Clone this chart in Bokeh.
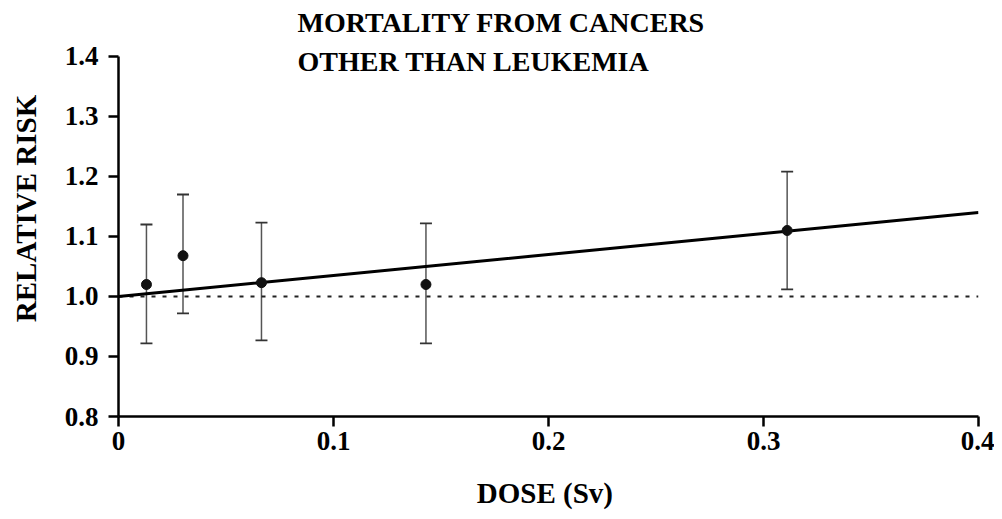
from bokeh.plotting import figure
from bokeh.models import ColumnDataSource, Whisker, TeeHead, Label, FixedTicker, Range1d
from bokeh.embed import file_html
from bokeh.resources import INLINE

# data
dose = [0.013, 0.030, 0.0665, 0.143, 0.311]
rr = [1.020, 1.068, 1.023, 1.020, 1.110]
rr_low = [0.922, 0.972, 0.927, 0.922, 1.012]
rr_high = [1.120, 1.170, 1.123, 1.122, 1.208]

fit_dose = [0.0, 0.1, 0.2, 0.3, 0.4]
fit_rr = [1.0, 1.035, 1.07, 1.105, 1.14]

ref_dose = [0.0, 0.4]
ref_rr = [1.0, 1.0]

x_ticks = [0, 0.1, 0.2, 0.3, 0.4]
x_tick_labels = {0: "0", 0.1: "0.1", 0.2: "0.2", 0.3: "0.3", 0.4: "0.4"}
y_ticks = [0.8, 0.9, 1.0, 1.1, 1.2, 1.3, 1.4]
y_tick_labels = {0.8: "0.8", 0.9: "0.9", 1.0: "1.0", 1.1: "1.1", 1.2: "1.2", 1.3: "1.3", 1.4: "1.4"}

title_lines = ["MORTALITY FROM CANCERS", "OTHER THAN LEUKEMIA"]

FONT = "Times New Roman"

p = figure(width=994, height=511, output_backend="svg", toolbar_location=None,
           x_range=Range1d(0, 0.4), y_range=Range1d(0.8, 1.4933),
           min_border_left=118, min_border_right=16, min_border_top=0, min_border_bottom=95)
p.outline_line_color = None
p.xgrid.visible = False
p.ygrid.visible = False
p.background_fill_color = "white"
p.border_fill_color = "white"

# reference dotted line at RR = 1
p.line(ref_dose, ref_rr, line_color="#222222", line_width=2, line_dash="4 7")

# fitted line
p.line(fit_dose, fit_rr, line_color="black", line_width=3)

# error bars
src = ColumnDataSource(dict(x=dose, y=rr, lo=rr_low, hi=rr_high))
wh = Whisker(base="x", lower="lo", upper="hi", source=src,
             line_color="#555555", line_width=1.5,
             upper_head=TeeHead(size=12, line_color="#333333", line_width=1.8),
             lower_head=TeeHead(size=12, line_color="#333333", line_width=1.8))
p.add_layout(wh)

p.scatter("x", "y", source=src, size=10, fill_color="#111111", line_color="#111111")

# axes
for ax in (p.xaxis, p.yaxis):
    ax.axis_line_width = 2.5
    ax.axis_line_color = "black"
    ax.major_tick_line_width = 2.5
    ax.major_tick_line_color = "black"
    ax.major_tick_in = 0
    ax.major_tick_out = 10
    ax.minor_tick_line_color = None
    ax.major_label_text_font = FONT
    ax.major_label_text_font_style = "bold"
    ax.major_label_text_font_size = "27px"
    ax.major_label_text_color = "black"
    ax.axis_label_text_font = FONT
    ax.axis_label_text_font_style = "bold"
    ax.axis_label_text_font_size = "29px"
    ax.axis_label_text_color = "black"

p.yaxis.bounds = (0.8, 1.4)
p.xaxis.ticker = FixedTicker(ticks=x_ticks)
p.xaxis.major_label_overrides = x_tick_labels
p.yaxis.ticker = FixedTicker(ticks=y_ticks)
p.yaxis.major_label_overrides = y_tick_labels
p.xaxis.major_label_standoff = 5
p.yaxis.major_label_standoff = 10
p.xaxis.axis_label = "DOSE  (Sv)"
p.yaxis.axis_label = "RELATIVE RISK"
p.xaxis.axis_label_standoff = 24
p.yaxis.axis_label_standoff = 20

# title as two lines of text
p.add_layout(Label(x=0.0833, y=1.4566, text=title_lines[0], text_font=FONT,
                   text_font_style="bold", text_font_size="28px", text_baseline="alphabetic",
                   text_align="left", text_color="black"))
p.add_layout(Label(x=0.0833, y=1.3916, text=title_lines[1], text_font=FONT,
                   text_font_style="bold", text_font_size="28px", text_baseline="alphabetic",
                   text_align="left", text_color="black"))

open("out.html", "w").write(file_html(p, INLINE))
